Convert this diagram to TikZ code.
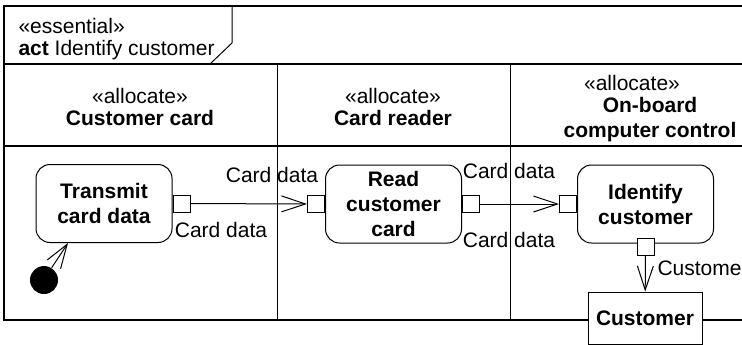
\documentclass[tikz,border=0pt]{standalone}
\usepackage{fontspec}
\setmainfont{Liberation Sans}
\usetikzlibrary{arrows.meta}

\begin{document}
\begin{tikzpicture}[x=0.5pt, y=-0.5pt, line width=0.5pt,
        font=\fontsize{10.5}{12.5}\selectfont,
        txt/.style={inner sep=0pt, align=center},
        action/.style={draw, rounded corners=7pt, align=center, font=\fontsize{10.5}{12.5}\selectfont\bfseries,
            minimum width=68pt, minimum height=39pt, inner sep=0pt},
        pinbox/.style={draw, fill=white, minimum size=8.5pt, inner sep=0pt},
        flow/.style={-{Straight Barb[length=12pt,width=8pt]}}]
    \useasboundingbox (0,0) rectangle (742,344);

    % frame, header and lanes
    \draw[line width=0.7pt] (4,6) rectangle (760,320);
    \draw[line width=0.7pt] (4,64) -- (760,64) (4,146) -- (760,146);
    \draw (232,6) -- (232,43) -- (210,64);
    \draw (277,64) -- (277,320) (510,64) -- (510,320);
    \node[txt, anchor=west] (stereo) at (18,26) {«essential»};
    \node[txt, anchor=west] (title) at (18,50) {\textbf{act} Identify customer};

    % lane headers
    \node[txt] (lanecard) at (140,107) {«allocate»\\[-1.5pt]\textbf{Customer card}};
    \node[txt] (lanereader) at (393,107) {«allocate»\\[-1.5pt]\textbf{Card reader}};
    \node[txt] (laneboardst) at (632,83) {«allocate»};
    \node[txt, font=\fontsize{10.5}{12.5}\selectfont\bfseries] (laneboard) at (650,120) {On-board\\computer control};

    % actions and pins
    \node[action] (transmit) at (104,203.5) {Transmit\\card data};
    \node[action] (read) at (393.5,204) {Read\\customer\\card};
    \node[action] (identify) at (645.5,204) {Identify\\customer};
    \node[pinbox, anchor=west] (transmitout) at (transmit.east) {};
    \node[pinbox, anchor=east] (readin) at (read.west) {};
    \node[pinbox, anchor=west] (readout) at (read.east) {};
    \node[pinbox, anchor=east] (identin) at (identify.west) {};
    \node[pinbox] (identout) at ([yshift=-1.5pt]identify.south) {};
    \node[draw, fill=white, minimum width=57pt, minimum height=26pt, inner sep=0pt,
        font=\fontsize{10.5}{12.5}\selectfont\bfseries] (customer) at (645,318) {Customer};
    \node[circle, fill=black, minimum size=14pt, inner sep=0pt] (init) at (44,280) {};

    % flows
    \draw[flow] (init.58) -- ([xshift=-18pt]transmit.south);
    \draw[flow] (transmitout) -- (readin);
    \draw[flow] (readout) -- (identin);
    \draw[flow] (identout) -- (customer);

    % pin labels
    \node[txt] (lbltransup) at (272,175) {Card data};
    \node[txt] (lbltransdown) at (221,230) {Card data};
    \node[txt] (lblreadup) at (509,171) {Card data};
    \node[txt] (lblreaddown) at (509,240) {Card data};
    \node[txt, anchor=west] (lblcust) at (657,268) {Customer};
\end{tikzpicture}
\end{document}
